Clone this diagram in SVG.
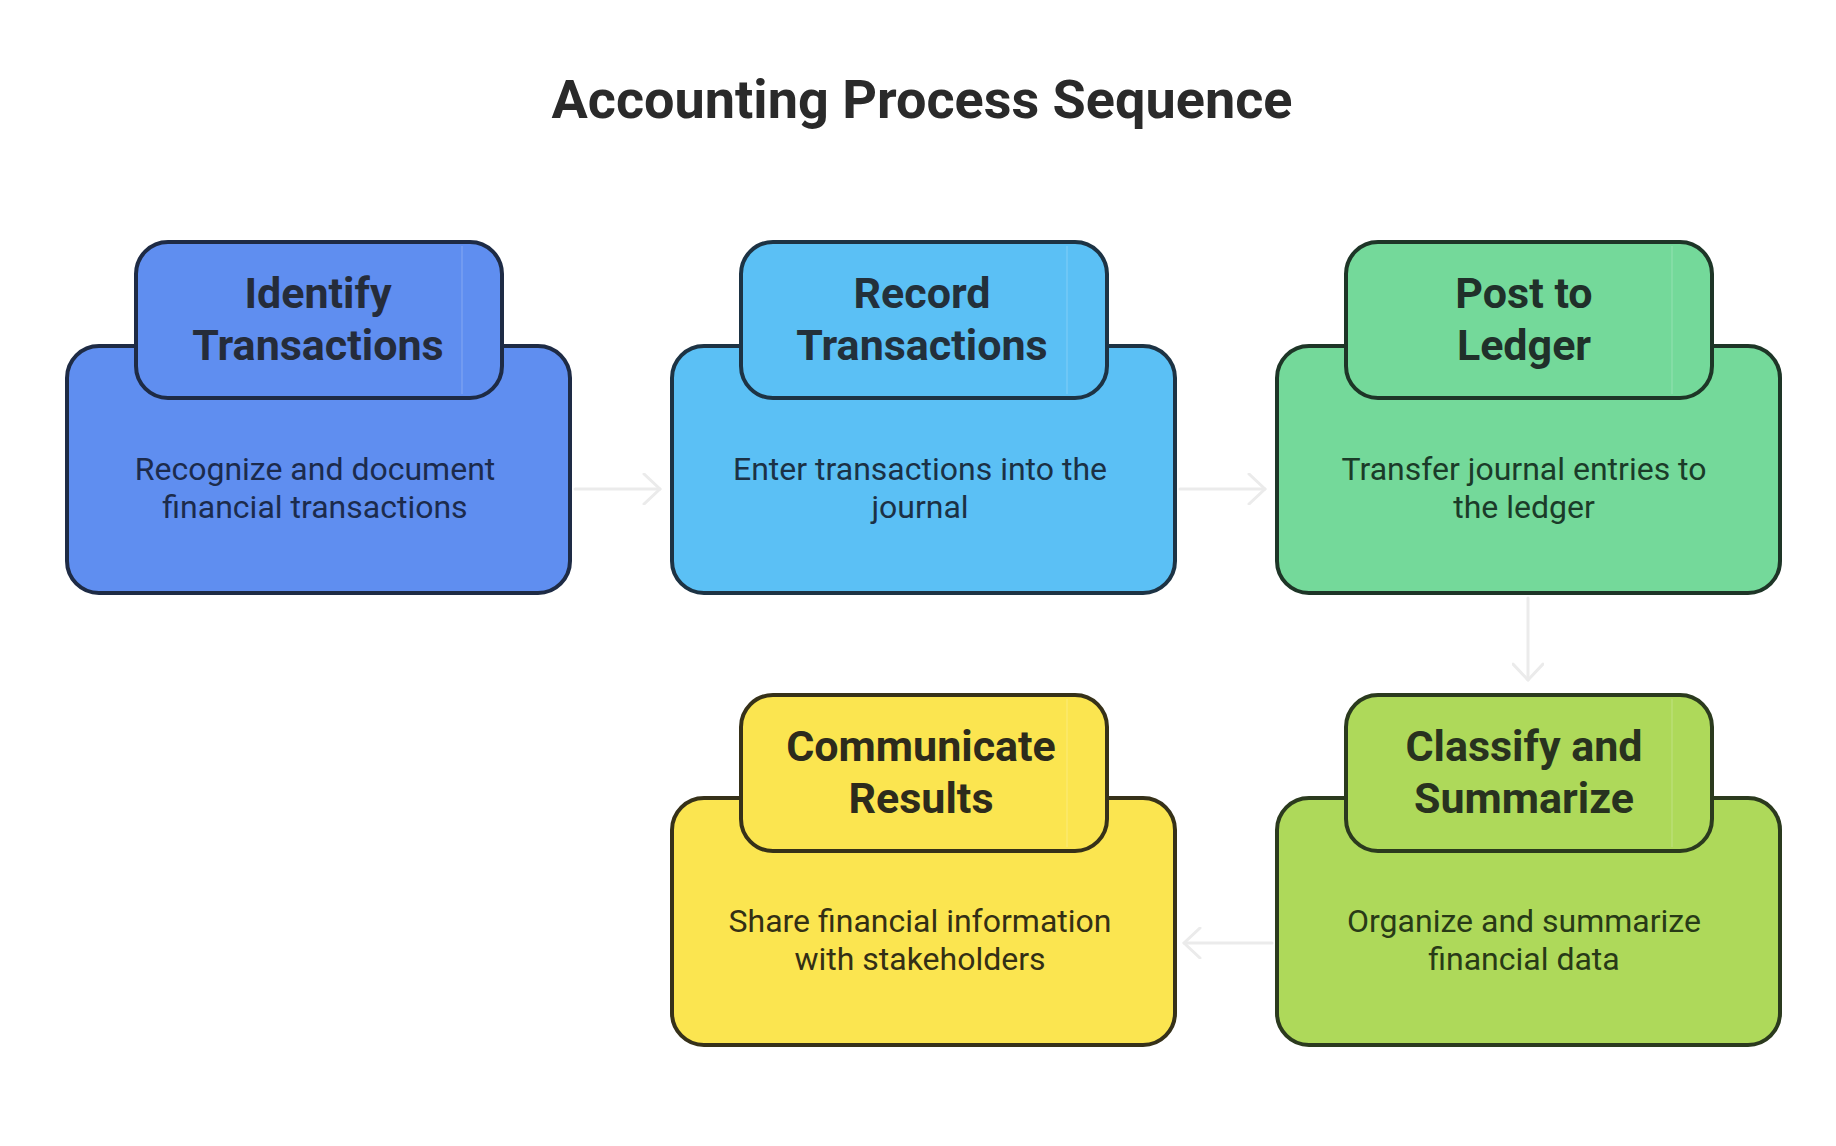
<svg xmlns="http://www.w3.org/2000/svg" width="1836" height="1146" viewBox="0 0 1836 1146">
<defs>
<style>
.title{font-family:Roboto,"Liberation Sans",sans-serif;font-weight:700;font-size:54px;fill:#2a2a2a;text-anchor:middle}
.head{font-family:Roboto,"Liberation Sans",sans-serif;font-weight:700;font-size:43px;text-anchor:middle}
.desc{font-family:Roboto,"Liberation Sans",sans-serif;font-weight:400;font-size:32px;text-anchor:middle}
.box{stroke-width:4}
.sheen{stroke:#ffffff;stroke-opacity:0.12;stroke-width:2}
.conn{fill:none;stroke:#ebebeb;stroke-width:3;stroke-linecap:round;stroke-linejoin:round}
</style>
<marker id="arr" viewBox="0 0 20 32" refX="18" refY="16" markerWidth="20" markerHeight="32" markerUnits="userSpaceOnUse" orient="auto">
<path d="M2 1 L18 16 L2 31" fill="none" stroke="#ebebeb" stroke-width="3" stroke-linecap="round" stroke-linejoin="round"/>
</marker>
</defs>
<rect width="1836" height="1146" fill="#ffffff"/>
<text class="title" x="922" y="118">Accounting Process Sequence</text>

<g id="connectors">
<line class="conn" x1="575" y1="489" x2="660" y2="489" marker-end="url(#arr)"/>
<line class="conn" x1="1180" y1="489" x2="1265" y2="489" marker-end="url(#arr)"/>
<line class="conn" x1="1528" y1="598" x2="1528" y2="680" marker-end="url(#arr)"/>
<line class="conn" x1="1272" y1="943" x2="1184" y2="943" marker-end="url(#arr)"/>
</g>

<g id="node-identify">
<rect class="box" x="67" y="346" width="503" height="247" rx="32" fill="#5f8ef0" stroke="#1e2b45"/>
<rect class="box" x="136" y="242" width="366" height="156" rx="32" fill="#5f8ef0" stroke="#1e2b45"/>
<line class="sheen" x1="462" y1="246" x2="462" y2="394"/>
<text class="head" x="318" y="308" fill="#252c3a">Identify</text>
<text class="head" x="318" y="360" fill="#252c3a">Transactions</text>
<text class="desc" x="315" y="480" fill="#1c2b4c">Recognize and document</text>
<text class="desc" x="315" y="518" fill="#1c2b4c">financial transactions</text>
</g>

<g id="node-record">
<rect class="box" x="672" y="346" width="503" height="247" rx="32" fill="#5bc0f5" stroke="#1d3344"/>
<rect class="box" x="741" y="242" width="366" height="156" rx="32" fill="#5bc0f5" stroke="#1d3344"/>
<line class="sheen" x1="1067" y1="246" x2="1067" y2="394"/>
<text class="head" x="922" y="308" fill="#23303b">Record</text>
<text class="head" x="922" y="360" fill="#23303b">Transactions</text>
<text class="desc" x="920" y="480" fill="#1b3145">Enter transactions into the</text>
<text class="desc" x="920" y="518" fill="#1b3145">journal</text>
</g>

<g id="node-post">
<rect class="box" x="1277" y="346" width="503" height="247" rx="32" fill="#74d99a" stroke="#1e3527"/>
<rect class="box" x="1346" y="242" width="366" height="156" rx="32" fill="#74d99a" stroke="#1e3527"/>
<line class="sheen" x1="1672" y1="246" x2="1672" y2="394"/>
<text class="head" x="1524" y="308" fill="#20302a">Post to</text>
<text class="head" x="1524" y="360" fill="#20302a">Ledger</text>
<text class="desc" x="1524" y="480" fill="#1b3b29">Transfer journal entries to</text>
<text class="desc" x="1524" y="518" fill="#1b3b29">the ledger</text>
</g>

<g id="node-classify">
<rect class="box" x="1277" y="798" width="503" height="247" rx="32" fill="#aed95a" stroke="#2b3a1e"/>
<rect class="box" x="1346" y="695" width="366" height="156" rx="32" fill="#aed95a" stroke="#2b3a1e"/>
<line class="sheen" x1="1672" y1="699" x2="1672" y2="847"/>
<text class="head" x="1524" y="761" fill="#28321f">Classify and</text>
<text class="head" x="1524" y="813" fill="#28321f">Summarize</text>
<text class="desc" x="1524" y="932" fill="#283a17">Organize and summarize</text>
<text class="desc" x="1524" y="970" fill="#283a17">financial data</text>
</g>

<g id="node-communicate">
<rect class="box" x="672" y="798" width="503" height="247" rx="32" fill="#fbe550" stroke="#363119"/>
<rect class="box" x="741" y="695" width="366" height="156" rx="32" fill="#fbe550" stroke="#363119"/>
<line class="sheen" x1="1067" y1="699" x2="1067" y2="847"/>
<text class="head" x="921" y="761" fill="#2d2b1c">Communicate</text>
<text class="head" x="921" y="813" fill="#2d2b1c">Results</text>
<text class="desc" x="920" y="932" fill="#332f15">Share financial information</text>
<text class="desc" x="920" y="970" fill="#332f15">with stakeholders</text>
</g>
</svg>
